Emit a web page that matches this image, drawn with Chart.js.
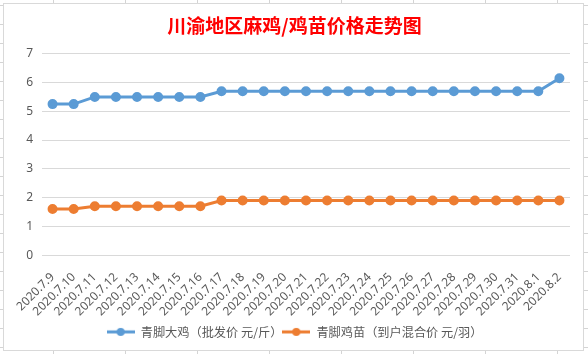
<!DOCTYPE html>
<html>
<head>
<meta charset="utf-8">
<script src="https://cdn.jsdelivr.net/npm/chart.js@4.4.0/dist/chart.umd.min.js"></script>
<style>
  html, body { margin: 0; padding: 0; }
  body {
    width: 588px; height: 354px; position: relative; overflow: hidden;
    background-color: #fff;
    background-image:
      repeating-linear-gradient(to right, transparent 0 53px, #d4d4d4 53px 54px, transparent 54px 72px),
      repeating-linear-gradient(to bottom, transparent 0 5px, #d4d4d4 5px 6px, transparent 6px 19px);
  }
  #box {
    position: absolute; left: 3px; top: 3px; width: 579px; height: 346px;
    background: #fff; border: 1px solid #d9d9d9;
  }
  #wrap { position: absolute; left: 0; top: 0; width: 588px; height: 354px; }
</style>
</head>
<body>
<div id="box"></div>
<div id="wrap"><canvas id="myChart" width="588" height="354"></canvas></div>
<script>
const dates = ["2020.7.9", "2020.7.10", "2020.7.11", "2020.7.12", "2020.7.13", "2020.7.14", "2020.7.15",
  "2020.7.16", "2020.7.17", "2020.7.18", "2020.7.19", "2020.7.20", "2020.7.21", "2020.7.22", "2020.7.23",
  "2020.7.24", "2020.7.25", "2020.7.26", "2020.7.27", "2020.7.28", "2020.7.29", "2020.7.30", "2020.7.31",
  "2020.8.1", "2020.8.2"];

const bigChicken = [5.25, 5.25, 5.5, 5.5, 5.5, 5.5, 5.5, 5.5, 5.7, 5.7, 5.7, 5.7, 5.7, 5.7, 5.7,
  5.7, 5.7, 5.7, 5.7, 5.7, 5.7, 5.7, 5.7, 5.7, 6.15];

const chicks = [1.6, 1.6, 1.7, 1.7, 1.7, 1.7, 1.7, 1.7, 1.9, 1.9, 1.9, 1.9, 1.9, 1.9, 1.9,
  1.9, 1.9, 1.9, 1.9, 1.9, 1.9, 1.9, 1.9, 1.9, 1.9];

const seriesNames = ["青脚大鸡（批发价 元/斤）", "青脚鸡苗（到户混合价 元/羽）"];
const colors = ["#5B9BD5", "#ED7D31"];

// legend marker: line with a dot in the middle, like excel
function marker(color) {
  const c = document.createElement("canvas");
  c.width = 28; c.height = 10;
  const ctx = c.getContext("2d");
  ctx.fillStyle = color;
  ctx.fillRect(0, 3.5, 28, 3);
  ctx.beginPath();
  ctx.arc(14, 5, 4, 0, Math.PI * 2);
  ctx.fill();
  return c;
}

const fontFam = "'Noto Sans', 'Noto Sans CJK SC', sans-serif";

new Chart(document.getElementById("myChart"), {
  type: "line",
  data: {
    labels: dates,
    datasets: [
      {
        label: seriesNames[0],
        data: bigChicken,
        borderColor: colors[0],
        backgroundColor: colors[0],
        borderWidth: 3,
        pointRadius: 3.5,
        pointHoverRadius: 3.5
      },
      {
        label: seriesNames[1],
        data: chicks,
        borderColor: colors[1],
        backgroundColor: colors[1],
        borderWidth: 3,
        pointRadius: 3.5,
        pointHoverRadius: 3.5
      }
    ]
  },
  options: {
    responsive: false,
    animation: false,
    devicePixelRatio: 1,
    layout: { padding: { left: 19, right: 18, top: 0, bottom: 6 } },
    scales: {
      x: {
        offset: true,
        grid: { display: false },
        border: { display: false },
        ticks: {
          color: "#595959",
          font: { family: fontFam, size: 12 },
          minRotation: 45,
          maxRotation: 45,
          autoSkip: false,
          padding: 7
        }
      },
      y: {
        min: 0,
        max: 7,
        afterFit: s => { s.width = 23; },
        grid: { color: "#d9d9d9", drawTicks: false },
        border: { display: false },
        ticks: {
          stepSize: 1,
          color: "#595959",
          font: { family: fontFam, size: 12 },
          padding: 9
        }
      }
    },
    plugins: {
      title: {
        display: true,
        text: "川渝地区麻鸡/鸡苗价格走势图",
        color: "#FF0000",
        font: { family: "'Noto Sans CJK SC', sans-serif", size: 19, weight: "bold" },
        padding: { top: 14, bottom: 17 }
      },
      legend: {
        position: "bottom",
        labels: {
          color: "#595959",
          font: { family: "'Noto Sans CJK SC', sans-serif", size: 12.2 },
          usePointStyle: true,
          pointStyleWidth: 28,
          padding: 0,
          generateLabels: chart => {
            const items = Chart.defaults.plugins.legend.labels.generateLabels(chart);
            items.forEach((it, i) => { it.pointStyle = marker(colors[i]); });
            return items;
          }
        }
      },
      tooltip: { enabled: false }
    }
  }
});
</script>
</body>
</html>
